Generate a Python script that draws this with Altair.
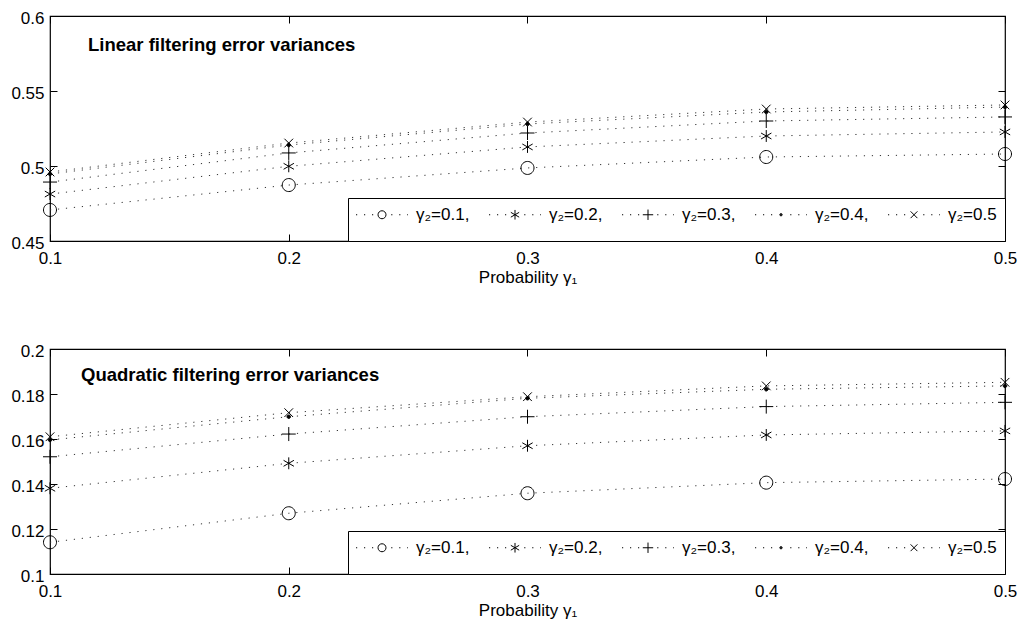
import altair as alt
import pandas as pd

# ---------------- data ----------------
gamma1 = [0.1, 0.2, 0.3, 0.4, 0.5]
series = ["γ₂=0.1,", "γ₂=0.2,", "γ₂=0.3,", "γ₂=0.4,", "γ₂=0.5"]

lin_g01 = [0.4707, 0.4873, 0.4987, 0.5060, 0.5080]
lin_g02 = [0.4813, 0.4998, 0.5127, 0.5200, 0.5227]
lin_g03 = [0.4893, 0.5087, 0.5220, 0.5300, 0.5327]
lin_g04 = [0.4947, 0.5140, 0.5280, 0.5360, 0.5393]
lin_g05 = [0.4960, 0.5153, 0.5293, 0.5380, 0.5407]

quad_g01 = [0.1141, 0.1270, 0.1359, 0.1406, 0.1422]
quad_g02 = [0.1381, 0.1492, 0.1570, 0.1618, 0.1636]
quad_g03 = [0.1521, 0.1622, 0.1699, 0.1744, 0.1763]
quad_g04 = [0.1596, 0.1699, 0.1781, 0.1821, 0.1836]
quad_g05 = [0.1610, 0.1717, 0.1788, 0.1836, 0.1852]

lin_yticks = [0.45, 0.5, 0.55, 0.6]
quad_yticks = [0.1, 0.12, 0.14, 0.16, 0.18, 0.2]

FONT = "Liberation Sans"


def make_df(cols):
    rows = []
    for s, vals in zip(series, cols):
        for x, y in zip(gamma1, vals):
            rows.append({"x": x, "y": y, "series": s})
    return pd.DataFrame(rows)


# marker shapes (plot): unit = 7px with size 196
marker_paths = [
    "M0.93,0A0.93,0.93,0,1,1,-0.93,0A0.93,0.93,0,1,1,0.93,0Z",
    "M0,-0.85L0,0.85M-0.74,-0.425L0.74,0.425M-0.74,0.425L0.74,-0.425",
    "M-1,0L1,0M0,-1L0,1",
    "M0.25,0A0.25,0.25,0,1,1,-0.25,0A0.25,0.25,0,1,1,0.25,0Z",
    "M-0.62,-0.62L0.62,0.62M-0.62,0.62L0.62,-0.62",
]
marker_fills = ["transparent", "transparent", "transparent", "black", "transparent"]

# legend symbols: unit = 4px with size 64, dotted segment + marker
# (the two bare move-tos only set the entry's height)
DOTS = "M0,-4M0,4M-6.5,0L-6.2,0M-4.5,0L-4.2,0M-2.5,0L-2.2,0M2.3,0L2.6,0M4.3,0L4.6,0M6.3,0L6.5,0"
legend_paths = [
    DOTS + "M1,0A1,1,0,1,1,-1,0A1,1,0,1,1,1,0Z",
    DOTS + "M0,-1.2L0,1.2M-1.04,-0.6L1.04,0.6M-1.04,0.6L1.04,-0.6",
    DOTS + "M-1.3,0L1.3,0M0,-1.3L0,1.3",
    DOTS + "M0.3,0A0.3,0.3,0,1,1,-0.3,0A0.3,0.3,0,1,1,0.3,0ZM0.15,0A0.15,0.15,0,1,1,-0.15,0A0.15,0.15,0,1,1,0.15,0Z",
    DOTS + "M-0.85,-0.85L0.85,0.85M-0.85,0.85L0.85,-0.85",
]

W, H = 955, 225


def panel(cols, ydomain, yticks, yfmt, title_text, title_x, title_y):
    df = make_df(cols)
    xscale = alt.Scale(domain=[0.1, 0.5], nice=False, zero=False)
    yscale = alt.Scale(domain=ydomain, nice=False, zero=False)

    ax_bottom = alt.Axis(orient="bottom", values=gamma1, format=".1f", title="Probability γ₁",
                         offset=-7, tickSize=7, labelPadding=9, titlePadding=3, domain=False,
                         labelFlush=False, grid=False, tickColor="black", labelColor="black",
                         labelFont=FONT, labelFontSize=17, titleFont=FONT, titleFontSize=17,
                         titleFontWeight="normal", titleColor="black")
    ax_left = alt.Axis(orient="left", values=yticks, format=yfmt, title=None,
                       offset=-7, tickSize=7, labelPadding=6, labelOffset=2, domain=False,
                       grid=False, tickColor="black", labelColor="black", labelFont=FONT,
                       labelFontSize=17, minExtent=0)
    ax_top = alt.Axis(orient="top", values=gamma1, labels=False, title=None, offset=-7,
                      tickSize=7, domain=False, grid=False, tickColor="black", minExtent=0)
    ax_right = alt.Axis(orient="right", values=yticks, labels=False, title=None, offset=-7,
                        tickSize=7, domain=False, grid=False, tickColor="black", minExtent=0)

    lines = alt.Chart(df).mark_line(strokeDash=[1.2, 6.8], strokeWidth=1, color="#333333").encode(
        x=alt.X("x:Q", scale=xscale, axis=ax_bottom),
        y=alt.Y("y:Q", scale=yscale, axis=ax_left),
        detail="series:N",
    )
    points = alt.Chart(df).mark_point(size=196, strokeWidth=1, opacity=1, stroke="black").encode(
        x=alt.X("x:Q", scale=xscale, axis=ax_top),
        y=alt.Y("y:Q", scale=yscale, axis=ax_right),
        shape=alt.Shape("series:N", scale=alt.Scale(domain=series, range=marker_paths), legend=None),
        fill=alt.Fill("series:N", scale=alt.Scale(domain=series, range=marker_fills), legend=None),
    )
    leg = alt.Chart(df).transform_filter("false").mark_point(size=64, strokeWidth=1, stroke="black").encode(
        shape=alt.Shape(
            "series:N",
            scale=alt.Scale(domain=series, range=legend_paths),
            legend=alt.Legend(
                title=None, orient="bottom-right", offset=0,
                direction="horizontal", columns=5, gridAlign="all",
                padding=8, strokeColor="black", fillColor="white", cornerRadius=0,
                symbolSize=64, symbolStrokeColor="black", symbolStrokeWidth=1,
                symbolFillColor="transparent", symbolOpacity=1, symbolOffset=17.5,
                labelFont=FONT, labelFontSize=17, labelColor="black", labelOffset=25.5,
                columnPadding=17, labelLimit=200,
            ),
        ),
    )
    ttl = alt.Chart(pd.DataFrame({"t": [title_text]})).mark_text(
        align="left", baseline="alphabetic", font=FONT, fontSize=18.5, fontWeight="bold", color="black"
    ).encode(x=alt.value(title_x), y=alt.value(title_y), text="t:N")

    return alt.layer(lines, points, leg, ttl).resolve_scale(
        shape="independent", fill="independent"
    ).resolve_axis(x="independent", y="independent").properties(width=W, height=H)


top = panel([lin_g01, lin_g02, lin_g03, lin_g04, lin_g05], [0.45, 0.6], lin_yticks, ".2~f",
            "Linear filtering error variances", 38, 35)
bottom = panel([quad_g01, quad_g02, quad_g03, quad_g04, quad_g05], [0.1, 0.2], quad_yticks, ".2~f",
               "Quadratic filtering error variances", 31, 32)

chart = alt.vconcat(top, bottom, spacing=108, bounds="flush").configure_view(
    stroke="black", strokeWidth=1.2
).properties(padding={"left": 2, "top": 0, "right": 0, "bottom": 0}, background="white")

chart.save("out.html", embed_options={"renderer": "svg", "actions": False})
